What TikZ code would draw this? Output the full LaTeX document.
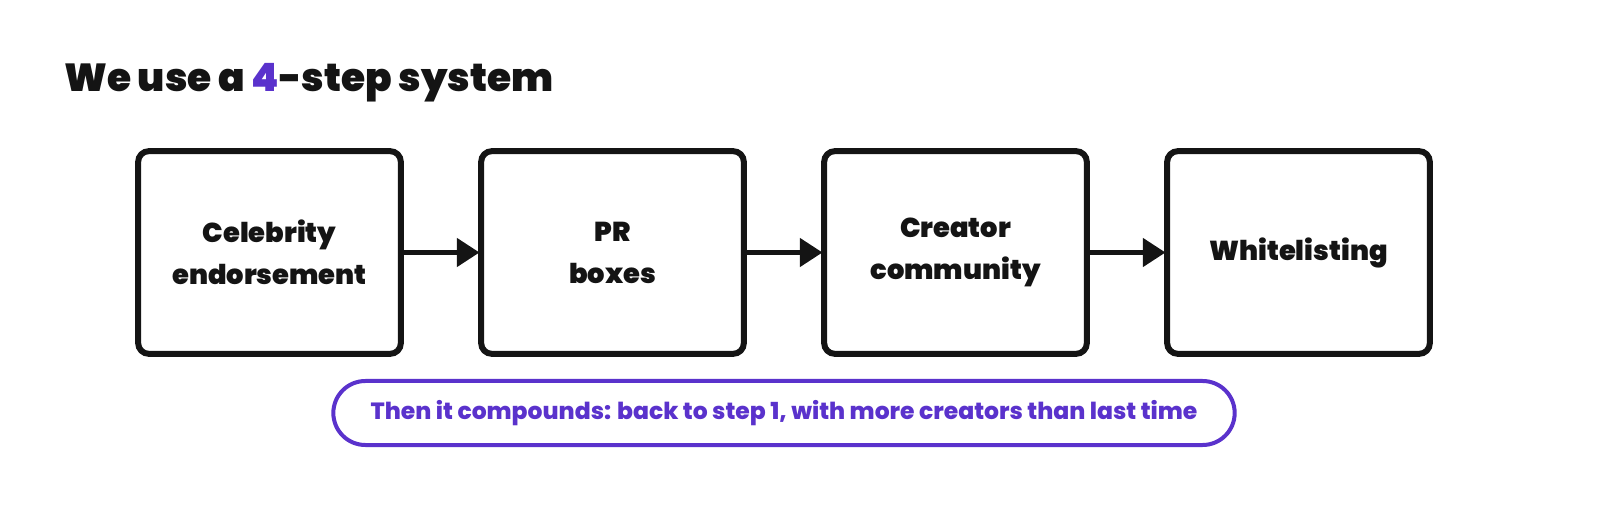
\documentclass[tikz,border=0pt]{standalone}
\usepackage{fontspec}
\setmainfont{Poppins}[BoldFont=* Bold]
\newfontfamily\heavy{Poppins ExtraBold}
\newfontfamily\heavier{Poppins Black}
\usetikzlibrary{arrows.meta}
\definecolor{ink}{HTML}{141414}
\definecolor{violet}{HTML}{5A32CC}
\tikzset{
  stepbox/.style={draw=ink, line width=4.5pt, rounded corners=8pt, minimum width=197pt, minimum height=152pt, inner sep=0pt, align=center, font=\heavier\fontsize{20.5}{31.5}\selectfont, text=ink},
  flow/.style={draw=ink, line width=3.6pt, -{Triangle[length=17pt,width=21pt]}, shorten >=-1pt},
  pill/.style={draw=violet, line width=3pt, rounded corners=24pt, minimum width=676pt, minimum height=48pt, inner sep=0pt, text=violet, font=\heavy\fontsize{17.6}{20}\selectfont},
}
\begin{document}
\begin{tikzpicture}[x=0.75pt,y=-0.75pt]
\useasboundingbox (0,0) rectangle (1600,513);
\node[anchor=base west, inner sep=0pt, text=ink, font=\heavier\fontsize{29.3}{34}\selectfont] (title) at (64,92) {We use a \textcolor{violet}{4}-step system};
\node[stepbox] (b1) at (269.5,252.5) {Celebrity\\endorsement};
\node[stepbox] (b2) at (612.5,252.5) {PR\\boxes};
\node[stepbox] (b3) at (955.5,252.5) {Creator\\community};
\node[stepbox] (b4) at (1298.5,252.5) {Whitelisting};
\draw[flow] (b1) -- (b2);
\draw[flow] (b2) -- (b3);
\draw[flow] (b3) -- (b4);
\node[pill] (note) at (784,413) {Then it compounds: back to step 1, with more creators than last time};
\end{tikzpicture}
\end{document}
